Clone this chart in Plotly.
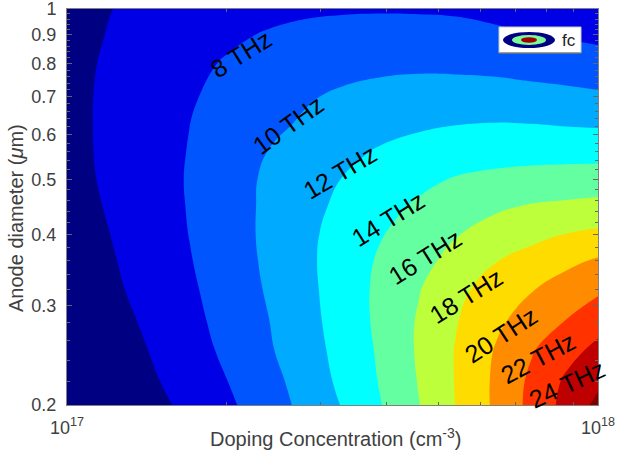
import plotly.graph_objects as go

# Data
doping = [1e17, 1.2e17, 1.4e17, 1.7e17, 2e17, 2.4e17, 2.8e17, 3.3e17, 3.9e17, 4.6e17, 5.4e17, 6.4e17, 7.5e17, 8.7e17, 1e18]
diameter = [0.2, 0.22, 0.25, 0.28, 0.32, 0.36, 0.4, 0.45, 0.5, 0.56, 0.63, 0.7, 0.8, 0.9, 1.0]
fc_020 = [3.2, 4.3, 5.2, 6.5, 7.64, 9.1, 10.5, 12.1, 13.95, 15.95, 18.06, 20.3, 22.56, 24.6, 26.5]
fc_022 = [3.4, 4.6, 5.55, 6.85, 7.97, 9.3, 10.85, 12.4, 14.15, 16.1, 18.1, 20.3, 22.4, 24.3, 25.6]
fc_025 = [3.7, 5.0, 5.9, 7.2, 8.37, 9.8, 11.1, 12.65, 14.3, 16.25, 18.1, 20.1, 21.85, 23.3, 24.5]
fc_028 = [3.9, 5.2, 6.2, 7.47, 8.6, 9.97, 11.3, 12.8, 14.45, 16.2, 17.9, 19.6, 20.95, 22.1, 23.3]
fc_032 = [4.3, 5.6, 6.5, 7.7, 8.85, 10.2, 11.45, 12.9, 14.45, 15.9, 17.5, 18.8, 19.9, 20.8, 21.65]
fc_036 = [4.6, 5.8, 6.7, 7.9, 9.0, 10.35, 11.55, 12.9, 14.25, 15.4, 16.6, 17.9, 18.8, 19.55, 20.2]
fc_040 = [4.8, 5.97, 6.85, 8.03, 9.13, 10.4, 11.55, 12.7, 13.9, 14.9, 15.9, 16.7, 17.4, 18.05, 18.4]
fc_045 = [5.1, 6.17, 7.0, 8.1, 9.2, 10.35, 11.35, 12.4, 13.4, 14.25, 15.0, 15.7, 16.1, 16.3, 16.5]
fc_050 = [5.3, 6.3, 7.1, 8.13, 9.2, 10.3, 11.15, 12.05, 12.8, 13.55, 14.15, 14.5, 14.7, 14.85, 14.95]
fc_056 = [5.4, 6.35, 7.1, 8.07, 9.0, 10.05, 10.75, 11.5, 12.2, 12.7, 13.0, 13.2, 13.3, 13.3, 13.3]
fc_063 = [5.45, 6.35, 7.05, 7.98, 8.75, 9.55, 10.2, 10.8, 11.3, 11.65, 11.9, 12.0, 11.95, 11.8, 11.7]
fc_070 = [5.5, 6.3, 6.95, 7.83, 8.5, 9.2, 9.8, 10.3, 10.65, 10.85, 10.85, 10.85, 10.65, 10.5, 10.3]
fc_080 = [5.5, 6.2, 6.75, 7.6, 8.15, 8.65, 9.05, 9.35, 9.55, 9.63, 9.6, 9.45, 9.25, 9.05, 8.85]
fc_090 = [5.3, 6.08, 6.55, 7.2, 7.7, 8.15, 8.45, 8.65, 8.7, 8.7, 8.6, 8.3, 8.03, 7.8, 7.55]
fc_100 = [5.2, 5.95, 6.4, 6.9, 7.2, 7.5, 7.7, 7.8, 7.85, 7.82, 7.75, 7.55, 7.3, 7.1, 6.9]
band_colors = ["#000082", "#0000e6", "#0055ff", "#00aaff", "#00ffff", "#64ffa0",
               "#beff3c", "#ffdc00", "#ff8c00", "#ff3200", "#be0000", "#800000"]
contour_labels = ["8 THz", "10 THz", "12 THz", "14 THz", "16 THz", "18 THz", "20 THz", "22 THz", "24 THz"]
x_major = [1e17, 1e18]
x_major_text = ["10<sup>17</sup>", "10<sup>18</sup>"]
x_minor = [2e17, 3e17, 4e17, 5e17, 6e17, 7e17, 8e17, 9e17]
y_major = [0.2, 0.3, 0.4, 0.5, 0.6, 0.7, 0.8, 0.9, 1.0]
y_major_text = ["0.2", "0.3", "0.4", "0.5", "0.6", "0.7", "0.8", "0.9", "1"]
y_minor = [0.22, 0.24, 0.26, 0.28, 0.32, 0.34, 0.36, 0.38, 0.42, 0.44, 0.46, 0.48,
           0.52, 0.54, 0.56, 0.58, 0.62, 0.64, 0.66, 0.68, 0.72, 0.74, 0.76, 0.78,
           0.82, 0.84, 0.86, 0.88, 0.92, 0.94, 0.96, 0.98]

W, H = 617, 451
L, R, T, B = 67, 598, 9, 405
TEXT = "#404040"
FONT = "Liberation Sans"


def px(x):
    return (x - L) / (R - L)


def py(y):
    return (B - y) / (B - T)


# Discrete colour scale: one flat colour for each 2 THz band
n = len(band_colors)
scale = []
for i, c in enumerate(band_colors):
    scale += [[i / n, c], [(i + 1) / n, c]]

fig = go.Figure(go.Contour(
    x=doping, y=diameter,
    z=[fc_020, fc_022, fc_025, fc_028, fc_032, fc_036, fc_040, fc_045,
       fc_050, fc_056, fc_063, fc_070, fc_080, fc_090, fc_100],
    zmin=4, zmax=28, colorscale=scale, showscale=False, hoverinfo="skip",
    contours=dict(start=6, end=26, size=2, coloring="fill", showlines=False),
    line=dict(width=0, smoothing=1.3),
))

label_pos = [(241, 54, -32), (288, 125, -36), (340, 172, -31), (388, 219, -32), (425, 257, -32),
             (466, 296, -32), (501, 335, -33), (538, 358, -28), (567, 384, -25)]
annots = [dict(text=t, xref="paper", yref="paper", x=px(a), y=py(b), showarrow=False,
               xanchor="center", yanchor="middle", textangle=ang,
               font=dict(family=FONT, size=25, color="black"))
          for t, (a, b, ang) in zip(contour_labels, label_pos)]
annots.append(dict(text="fc", xref="paper", yref="paper", x=px(569), y=py(41), showarrow=False,
                   xanchor="center", yanchor="middle", font=dict(family=FONT, size=17, color="#222222")))
annots.append(dict(text="Doping Concentration (cm<sup>-3</sup>)", xref="paper", yref="paper",
                   x=px(335), y=py(438), showarrow=False, xanchor="center", yanchor="middle",
                   font=dict(family=FONT, size=20, color=TEXT)))
annots.append(dict(text="Anode diameter (<i>μ</i>m)", xref="paper", yref="paper",
                   x=px(16), y=py(218), showarrow=False, xanchor="center", yanchor="middle", textangle=-90,
                   font=dict(family=FONT, size=20, color=TEXT)))

# Legend key
shapes = [
    dict(type="rect", xref="paper", yref="paper", x0=px(499), x1=px(581), y0=py(53), y1=py(27),
         fillcolor="white", line=dict(color="#c8c8c8", width=1), layer="above"),
    dict(type="line", xref="paper", yref="paper", x0=px(499), x1=px(581), y0=py(53), y1=py(53),
         line=dict(color="#555555", width=1), layer="above"),
]
for rx, ry, col in [(26, 8, "#000082"), (17, 5, "#7dfa96"), (8, 2.7, "#a00000")]:
    shapes.append(dict(type="circle", xref="paper", yref="paper",
                       x0=px(529 - rx), x1=px(529 + rx), y0=py(40 + ry), y1=py(40 - ry),
                       fillcolor=col, line=dict(width=0), layer="above"))

axis_common = dict(type="log", automargin=False, showgrid=False, zeroline=False, ticks="inside", ticklen=5,
                   tickwidth=1, tickcolor="#666666", showline=True, linecolor="#808080",
                   linewidth=1, mirror="ticks", ticklabelstandoff=6, ticklabeloverflow="allow",
                   tickfont=dict(family=FONT, size=18, color=TEXT))

fig.update_layout(
    width=W, height=H, autosize=False,
    margin=dict(l=L, r=W - R, t=T, b=H - B, pad=0),
    paper_bgcolor="white", plot_bgcolor="white",
    showlegend=False, annotations=annots, shapes=shapes,
    xaxis=dict(axis_common, range=[17, 18], tickmode="array", tickvals=x_major, ticktext=x_major_text,
               minor=dict(tickmode="array", tickvals=x_minor, ticks="inside", ticklen=3,
                          tickcolor="#666666", showgrid=False)),
    yaxis=dict(axis_common, range=[-0.69897, 0], tickmode="array", tickvals=y_major, ticktext=y_major_text,
               minor=dict(tickmode="array", tickvals=y_minor, ticks="inside", ticklen=3,
                          tickcolor="#666666", showgrid=False)),
)
# The page's default body margin would push the figure off the 617x451 window
fig.write_html("out.html", config={"displayModeBar": False},
               post_script="document.body.style.margin='0';document.documentElement.style.overflow='hidden';")
